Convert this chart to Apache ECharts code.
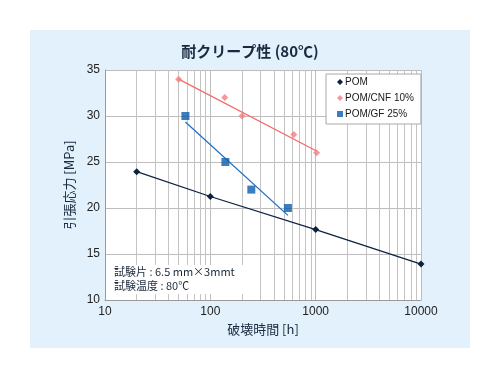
<!DOCTYPE html>
<html><head><meta charset="utf-8">
<script src="https://cdn.jsdelivr.net/npm/echarts@6/dist/echarts.min.js"></script>
<style>html,body{margin:0;padding:0;background:#fff}#c{width:500px;height:378px}</style>
</head><body><div id="c"></div>
<script>
// Data
var pomX = [20, 100, 1000, 10000];
var pomY = [23.95, 21.25, 17.65, 13.9];
var cnfX = [50, 137, 200, 620, 1020];
var cnfY = [34.0, 32.0, 30.0, 28.0, 26.0];
var cnfTrendX = [50, 1020];
var cnfTrendY = [34.0, 26.2];
var gfX = [58, 139, 245, 545];
var gfY = [30.0, 25.0, 22.0, 20.0];
var gfTrendX = [58, 545];
var gfTrendY = [29.35, 19.2];
var minorGridX = [20,30,40,50,60,70,80,90,200,300,400,500,600,700,800,900,2000,3000,4000,5000,6000,7000,8000,9000];
var xTicks = [10, 100, 1000, 10000];
var yTicks = [10, 15, 20, 25, 30, 35];

function zip(a, b) { return a.map(function (v, i) { return [v, b[i]]; }); }

var font = '"Noto Sans CJK JP", "Liberation Sans", sans-serif';
var chart = echarts.init(document.getElementById('c'));
chart.setOption({
  animation: false,
  backgroundColor: '#ffffff',
  graphic: [
    { type: 'rect', z: -10, shape: { x: 30, y: 30, width: 440, height: 318 }, style: { fill: '#e2f1fc' } },
    { type: 'rect', z: 50, shape: { x: 112, y: 265, width: 131, height: 29 }, style: { fill: '#ffffff' } },
    { type: 'text', z: 51, left: 114, top: 265, style: { text: '試験片 : 6.5 mm×3mmt\n試験温度 : 80℃', font: '11px ' + font, fill: '#1a2a3a', lineHeight: 14 } }
  ],
  title: {
    text: '耐クリープ性 (80℃)', left: 'center', top: 44,
    textStyle: { fontFamily: font, fontSize: 15, fontWeight: 'bold', color: '#1a2a3f' },
    padding: 0
  },
  legend: {
    orient: 'vertical', left: 326, top: 74, z: 100,
    backgroundColor: '#ffffff', borderColor: '#a8a8a8', borderWidth: 1, borderRadius: 0,
    padding: [3, 7, 5, 11],
    itemWidth: 6, itemHeight: 6, itemGap: 6,
    textStyle: { fontFamily: '"Liberation Sans", Arial, sans-serif', fontSize: 10, color: '#1a1a1a', padding: [0, 0, 0, -3] },
    data: [
      { name: 'POM', icon: 'diamond' },
      { name: 'POM/CNF 10%', icon: 'diamond' },
      { name: 'POM/GF 25%', icon: 'rect' }
    ]
  },
  grid: { left: 105, right: 79, top: 70, bottom: 78, show: true, backgroundColor: '#ffffff', borderWidth: 0 },
  xAxis: {
    type: 'log', logBase: 10, min: xTicks[0], max: xTicks[xTicks.length - 1],
    name: '破壊時間 [h]', nameLocation: 'middle', nameGap: 19,
    nameTextStyle: { fontFamily: font, fontSize: 13, color: '#1a2a3f' },
    axisLine: { show: true, lineStyle: { color: '#9a9a9a' } },
    axisTick: { show: false },
    axisLabel: { fontFamily: '"Liberation Sans", Arial, sans-serif', fontSize: 12, color: '#222', margin: 6,
      formatter: function (v) { return String(Math.round(v)); } },
    splitLine: { show: true, lineStyle: { color: '#bdbdbd', width: 1 } }
  },
  yAxis: {
    type: 'value', min: yTicks[0], max: yTicks[yTicks.length - 1], interval: 5,
    name: '引張応力 [MPa]', nameLocation: 'middle', nameGap: 27,
    nameTextStyle: { fontFamily: font, fontSize: 13, color: '#1a2a3f' },
    axisLine: { show: true, lineStyle: { color: '#9a9a9a' } },
    axisTick: { show: false },
    axisLabel: { fontFamily: '"Liberation Sans", Arial, sans-serif', fontSize: 12, color: '#222', margin: 5 },
    splitLine: { show: true, lineStyle: { color: '#bdbdbd', width: 1 } }
  },
  series: [
    {
      name: 'grid-minor', type: 'line', data: [], z: 1, silent: true,
      markLine: {
        silent: true, symbol: 'none', label: { show: false }, z: 1,
        lineStyle: { color: '#c4c4c4', type: 'solid', width: 1 },
        data: minorGridX.map(function (v) { return { xAxis: v }; })
      }
    },
    {
      name: 'POM', type: 'line', data: zip(pomX, pomY), z: 5,
      symbol: 'diamond', symbolSize: 7, showSymbol: true,
      itemStyle: { color: '#0d2240' }, lineStyle: { color: '#0d2240', width: 1.3 }
    },
    {
      name: 'POM/CNF 10%', type: 'scatter', data: zip(cnfX, cnfY), z: 5,
      symbol: 'diamond', symbolSize: 7, itemStyle: { color: '#f37e7e' }
    },
    {
      name: 'cnf-trend', type: 'line', data: zip(cnfTrendX, cnfTrendY), z: 4,
      symbol: 'none', lineStyle: { color: '#f36b6b', width: 1.3 }
    },
    {
      name: 'POM/GF 25%', type: 'scatter', data: zip(gfX, gfY), z: 5,
      symbol: 'rect', symbolSize: 8, itemStyle: { color: '#0b5cb0' }
    },
    {
      name: 'gf-trend', type: 'line', data: zip(gfTrendX, gfTrendY), z: 4,
      symbol: 'none', lineStyle: { color: '#1f6fc2', width: 1.3 }
    }
  ]
});
</script>
</body></html>
